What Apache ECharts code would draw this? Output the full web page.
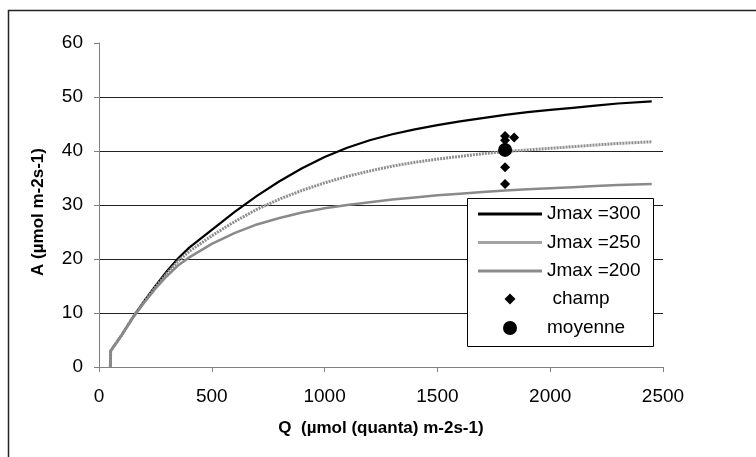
<!DOCTYPE html>
<html>
<head>
<meta charset="utf-8">
<script src="https://cdn.jsdelivr.net/npm/echarts@6/dist/echarts.min.js"></script>
<style>
html,body{margin:0;padding:0;background:#fff;}
#c{width:756px;height:457px;}
</style>
</head>
<body>
<div id="c"></div>
<script>
// Light intensity Q (µmol quanta m-2 s-1)
var qValues = [50, 52, 100, 150, 200, 250, 300, 350, 400, 500, 600, 700, 800, 900, 1000, 1100, 1200, 1300, 1400, 1500, 1600, 1700, 1800, 1900, 2000, 2100, 2200, 2300, 2450];
var jmax300 = [0, 3, 5.9, 9.2, 12.2, 15, 17.7, 20.1, 22.1, 25.4, 28.7, 31.7, 34.4, 36.8, 38.9, 40.6, 42, 43.1, 44, 44.8, 45.5, 46.1, 46.7, 47.2, 47.6, 48, 48.4, 48.8, 49.2];
var jmax250 = [0, 3, 5.9, 9.2, 12.1, 14.8, 17.3, 19.6, 21.4, 24.3, 26.9, 29.2, 31.1, 32.7, 34.1, 35.3, 36.3, 37.2, 37.9, 38.5, 39, 39.5, 39.9, 40.2, 40.5, 40.8, 41.1, 41.4, 41.7];
var jmax200 = [0, 3, 5.8, 9.1, 11.9, 14.5, 16.8, 18.8, 20.3, 22.8, 24.8, 26.4, 27.6, 28.6, 29.4, 30, 30.5, 31, 31.4, 31.8, 32.1, 32.4, 32.7, 32.9, 33.1, 33.3, 33.5, 33.7, 33.9];
var champQ = [1800, 1800, 1840, 1800, 1800, 1800];
var champA = [42.8, 42, 42.5, 40.5, 37, 33.9];
var moyenneQ = [1800];
var moyenneA = [40.2];
var xTicks = [0, 500, 1000, 1500, 2000, 2500];
var yTicks = [0, 10, 20, 30, 40, 50, 60];
var seriesNames = ['Jmax =300', 'Jmax =250', 'Jmax =200', 'champ', 'moyenne'];

function pairs(xs, ys){ return xs.map(function(x,i){ return [x, ys[i]]; }); }

var FONT = 'Liberation Sans, Arial, sans-serif';
var chart = echarts.init(document.getElementById('c'), null, {renderer:'canvas'});
chart.setOption({
  animation: false,
  backgroundColor: '#fff',
  textStyle: {fontFamily: FONT},
  graphic: [
    {type:'rect', shape:{x:8.5, y:10.5, width:760, height:460}, style:{fill:null, stroke:'#222', lineWidth:1.5}, z:0, silent:true},
    {type:'rect', shape:{x:467.5, y:198.5, width:186, height:148}, style:{fill:'#fff', stroke:'#000', lineWidth:1}, z:3, silent:true}
  ],
  grid: {left:99, right:93, top:43, bottom:90, containLabel:false},
  xAxis: {
    type:'value', min:xTicks[0], max:xTicks[xTicks.length-1], interval:500,
    name:'Q  (µmol (quanta) m-2s-1)', nameLocation:'middle', nameGap:53,
    nameTextStyle:{fontFamily:FONT, fontWeight:'bold', fontSize:17, color:'#000'},
    axisLine:{show:true, lineStyle:{color:'#808080', width:1}},
    axisTick:{show:true, inside:false, length:5, lineStyle:{color:'#808080'}},
    axisLabel:{fontFamily:FONT, fontSize:19, color:'#000', margin:20, formatter:function(v){ return String(v); }},
    splitLine:{show:false}
  },
  yAxis: {
    type:'value', min:yTicks[0], max:yTicks[yTicks.length-1], interval:10,
    name:'A (µmol m-2s-1)', nameLocation:'middle', nameGap:52, nameRotate:90,
    nameTextStyle:{fontFamily:FONT, fontWeight:'bold', fontSize:17, color:'#000', padding:[0,14,0,0]},
    axisLine:{show:true, lineStyle:{color:'#808080', width:1}},
    axisTick:{show:true, inside:false, length:5, lineStyle:{color:'#808080'}},
    axisLabel:{fontFamily:FONT, fontSize:19, color:'#000', margin:16, formatter:function(v){ return String(v); }},
    splitLine:{show:true, showMinLine:false, showMaxLine:false, lineStyle:{color:'#222', width:1}}
  },
  legend: [
    {data:[
       {name:seriesNames[0], icon:'rect', itemStyle:{color:'#000'}},
       {name:seriesNames[1], icon:'rect', itemStyle:{color:'#a4a4a4'}},
       {name:seriesNames[2], icon:'rect', itemStyle:{color:'#8a8a8a'}}
     ], orient:'vertical', left:478, top:204, padding:0, symbolKeepAspect:false,
     itemWidth:64, itemHeight:3, itemGap:8.5, z:5,
     textStyle:{fontFamily:FONT, fontSize:19, color:'#000', lineHeight:20}},
    {data:[{name:seriesNames[3], icon:'diamond', itemStyle:{color:'#000', opacity:1}}], orient:'vertical', left:504.5, top:289, padding:0,
     itemWidth:11, itemHeight:11, z:5,
     textStyle:{fontFamily:FONT, fontSize:19, color:'#000', lineHeight:20, padding:[0,0,0,32]}},
    {data:[{name:seriesNames[4], icon:'circle', itemStyle:{color:'#000', opacity:1}}], orient:'vertical', left:503, top:318, padding:0,
     itemWidth:14, itemHeight:14, z:5,
     textStyle:{fontFamily:FONT, fontSize:19, color:'#000', lineHeight:20, padding:[0,0,0,25]}}
  ],
  series: [
    {name:seriesNames[0], type:'line', data:pairs(qValues, jmax300), symbol:'none', showSymbol:false, smooth:false,
     lineStyle:{color:'#000', width:2.2}, itemStyle:{color:'#000'}, z:2},
    {name:seriesNames[1], type:'line', data:pairs(qValues, jmax250), symbol:'none', showSymbol:false, smooth:false,
     lineStyle:{color:'#8f8f8f', width:3, type:[2,1]}, itemStyle:{color:'#8f8f8f'}, z:2},
    {name:seriesNames[2], type:'line', data:pairs(qValues, jmax200), symbol:'none', showSymbol:false, smooth:false,
     lineStyle:{color:'#8a8a8a', width:2.5}, itemStyle:{color:'#8a8a8a'}, z:2},
    {name:seriesNames[3], type:'scatter', data:pairs(champQ, champA), symbol:'diamond', symbolSize:10,
     itemStyle:{color:'#000', opacity:1}, z:4},
    {name:seriesNames[4], type:'scatter', data:pairs(moyenneQ, moyenneA), symbol:'circle', symbolSize:14,
     itemStyle:{color:'#000', opacity:1}, z:4}
  ]
});
</script>
</body>
</html>
